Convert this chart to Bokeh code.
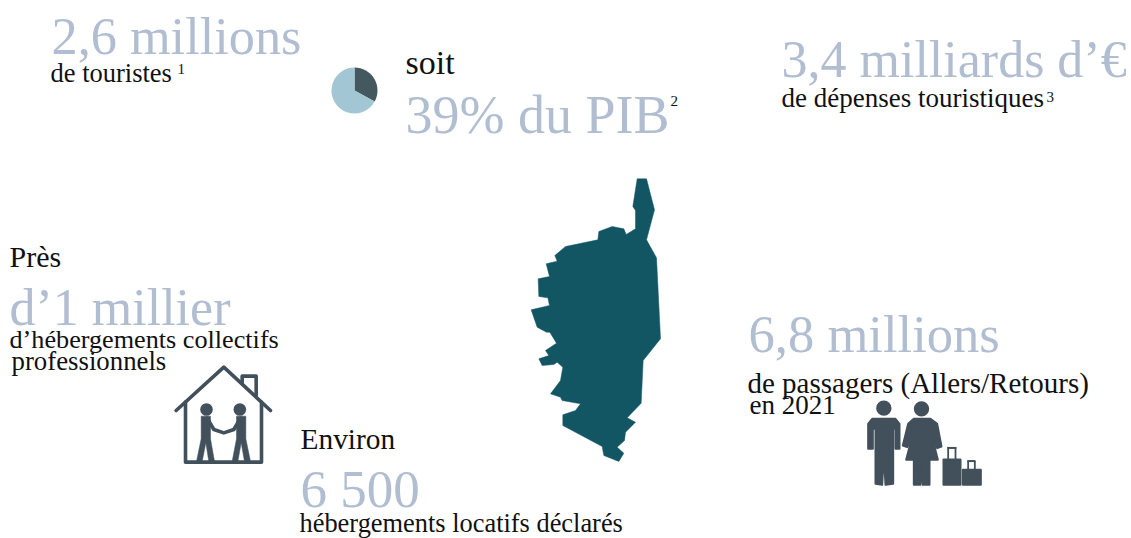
from math import pi
from bokeh.plotting import figure
from bokeh.models import Range1d
from bokeh.core.properties import value
from bokeh.embed import file_html
from bokeh.resources import INLINE

FONT = "Liberation Serif"
LIGHT = "#B1BED1"
BLACK = "#111111"
ICON = "#41505B"
MAP = "#125664"
BASE_SHIFT = 0.38

big_labels = ["2,6 millions", "39% du PIB", "3,4 milliards d’€", "d’1 millier", "6 500", "6,8 millions"]
big_x = [51, 405, 781, 9, 300, 748]
big_y = [55, 135, 79, 327, 509, 353]
big_size = [52.3, 54, 52, 52, 53, 52.6]

small_labels = ["de touristes", "soit", "de dépenses touristiques", "Près",
                "d’hébergements collectifs", "professionnels", "Environ",
                "hébergements locatifs déclarés", "de passagers (Allers/Retours)", "en 2021"]
small_x = [50, 405, 781, 9, 9, 11, 300, 299, 747, 749]
small_y = [83, 75, 108, 267, 349, 371, 450, 533, 394, 415]
small_size = [26.5, 34, 27, 30, 26.2, 26.8, 29.4, 26.4, 29, 27]

note_labels = ["1", "2", "3"]
note_x = [177, 670, 1046]
note_y = [74, 106, 102]
note_size = [15, 15, 15]

pie_shares = [33, 67]
pie_colors = ["#43595F", "#A3C6D4"]
pie_center = (354, 90)
pie_radius = 23

map_x = [380,408,432,408,438,450,398,392,350,375,345,342,320,340,325,280,275,157,157,195,210,155,150,120,150,157,140,130,95,85,115,105,138,118,108,80,62,117,112,85,83,117,107,140,133,165,262,265,305,340,347,375,375,367]
map_y = [25,25,118,208,262,505,570,698,742,755,785,810,830,848,873,855,828,765,733,720,700,690,680,670,630,590,575,582,585,565,555,540,518,485,485,470,418,405,382,378,325,318,280,272,255,228,208,183,168,175,192,175,120,108]

p = figure(width=1131, height=538, output_backend="svg", toolbar_location=None,
           x_range=Range1d(0, 1131), y_range=Range1d(538, 0), min_border=0)
p.axis.visible = False
p.grid.visible = False
p.outline_line_color = None
p.background_fill_color = "white"

# Corsica
p.patch([510 + v / 3 for v in map_x], [170 + v / 3 for v in map_y], fill_color=MAP, line_color=MAP, line_width=0.5)

# Pie
a = pi / 2
for s, c in zip(pie_shares, pie_colors):
    b = a - s / 100 * 2 * pi
    p.wedge(x=[pie_center[0]], y=[pie_center[1]], radius=pie_radius, start_angle=b, end_angle=a,
            fill_color=c, line_color=None)
    a = b

# Texts
def place(ys, sizes):
    return [y - BASE_SHIFT * s for y, s in zip(ys, sizes)]

p.text(x=big_x, y=place(big_y, big_size), text=big_labels, text_font=value(FONT), text_color=LIGHT,
       text_font_size=[f"{s}px" for s in big_size], text_baseline="alphabetic")
p.text(x=small_x, y=place(small_y, small_size), text=small_labels, text_font=value(FONT), text_color=BLACK,
       text_font_size=[f"{s}px" for s in small_size], text_baseline="alphabetic")
p.text(x=note_x, y=place(note_y, note_size), text=note_labels, text_font=value(FONT), text_color=BLACK,
       text_font_size=[f"{s}px" for s in note_size], text_baseline="alphabetic")

# House icon (160,355 crop, 3x)
def hx(v): return [160 + i / 3 for i in v]
def hy(v): return [355 + i / 3 for i in v]
house_lines = [
    ([47, 190, 330], [165, 35, 165]),
    ([75, 75, 303, 303], [140, 320, 320, 140]),
    ([245, 245, 287, 287], [85, 62, 62, 120]),
    ([140, 160, 190, 220, 240], [188, 222, 232, 222, 188]),
]
p.multi_line([hx(l[0]) for l in house_lines], [hy(l[1]) for l in house_lines],
             line_color=ICON, line_width=3.6, line_join="round", line_cap="round")
person_x = [
    [122, 150, 150, 162, 145, 136, 125, 108, 122],
    [228, 256, 256, 270, 252, 242, 232, 215, 228],
]
person_y = [
    [182, 182, 250, 318, 318, 262, 318, 318, 250],
    [182, 182, 250, 318, 318, 262, 318, 318, 250],
]
p.patches([hx(v) for v in person_x], [hy(v) for v in person_y], fill_color=ICON, line_color=ICON,
          line_width=0.5, line_join="round")
p.circle(x=hx([138, 238]), y=hy([162, 162]), radius=6.3, fill_color=ICON, line_color=None)

# Travellers icon (855,390 crop, 3x)
def tx(v): return [855 + i / 3 for i in v]
def ty(v): return [390 + i / 3 for i in v]
tr_x = [
    [38,50,120,132,132,120,120,113,113,90,85,80,60,60,52,52,38],
    [175,225,245,258,245,225,247,222,222,202,198,195,175,175,152,175,155,142,158],
    [264,315,315,264],
    [322,376,376,322],
]
tr_y = [
    [100,85,85,100,175,175,115,115,280,283,190,283,280,115,115,175,175],
    [85,85,100,168,173,120,208,208,283,283,210,283,283,208,208,120,170,165,100],
    [207,207,283,283],
    [238,238,283,283],
]
p.patches([tx(v) for v in tr_x], [ty(v) for v in tr_y], fill_color=ICON, line_color=ICON, line_width=2, line_join="round")
tr_hx = [[278, 278, 300, 300], [275, 303], [338, 338, 358, 358], [335, 360]]
tr_hy = [[207, 172, 172, 207], [172, 172], [238, 212, 212, 238], [212, 212]]
p.multi_line([tx(v) for v in tr_hx], [ty(v) for v in tr_hy], line_color=ICON, line_width=1.8)
p.circle(x=tx([85, 198]), y=ty([53, 55]), radius=7.7, fill_color=ICON, line_color=None)

open("out.html", "w").write(file_html(p, INLINE))
